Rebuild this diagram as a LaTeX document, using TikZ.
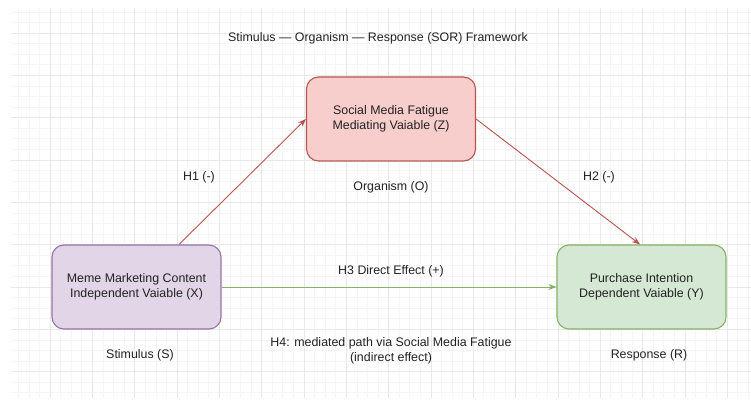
\documentclass[tikz,border=0pt]{standalone}
\usepackage{fontspec}
\setmainfont{Liberation Sans}
\usetikzlibrary{positioning,arrows.meta}

\definecolor{txtgray}{HTML}{222222}
\definecolor{purplefill}{HTML}{E1D5E7}
\definecolor{purpleline}{HTML}{9673A6}
\definecolor{redfill}{HTML}{F8CECC}
\definecolor{redline}{HTML}{B85450}
\definecolor{greenfill}{HTML}{D5E8D4}
\definecolor{greenline}{HTML}{82B366}

\begin{document}
\begin{tikzpicture}[
    x=1pt, y=-1pt,
    var/.style={rectangle, draw, line width=1.1pt, rounded corners=12pt, minimum width=169pt, minimum height=84pt, align=center, text=txtgray, font=\fontsize{12.4}{14.5}\selectfont},
    lbl/.style={align=center, text=txtgray, font=\fontsize{12.4}{14.5}\selectfont},
    path/.style={-{Stealth[length=8pt,width=6pt,inset=2.5pt]}, line width=0.9pt},
    gridminor/.style={draw=gray!8, line width=0.6pt},
    gridmajor/.style={draw=gray!18, line width=0.6pt}
  ]

    \useasboundingbox[fill=white] (0,0) rectangle (751,403);

    % background grid
    \begin{scope}
      \clip (11,8) rectangle (751,398);
      \foreach \i in {-4,...,66} \draw[gridminor] ({50+\i*10.58},8) -- ++(0,390);
      \foreach \j in {-3,...,34} \draw[gridminor] (11,{33+\j*10.58}) -- ++(740,0);
      \foreach \i in {-4,0,...,64} \draw[gridmajor] ({50+\i*10.58},8) -- ++(0,390);
      \foreach \j in {0,4,...,32} \draw[gridmajor] (11,{33+\j*10.58}) -- ++(740,0);
    \end{scope}

    \node[lbl] (title) at (378,38) {Stimulus — Organism — Response (SOR) Framework};

    \node[var, fill=redfill, draw=redline] (fatigue) at (391,119) {
      Social Media Fatigue\\
      Mediating Vaiable (Z)
    };

    \node[var, fill=purplefill, draw=purpleline] (meme) at (136.5,287) {
      Meme Marketing Content\\
      Independent Vaiable (X)
    };

    \node[var, fill=greenfill, draw=greenline] (purchase) at (641.5,287) {
      Purchase Intention\\
      Dependent Vaiable (Y)
    };

    \node[lbl] (h1) at (199,177) {H1 (-)};
    \node[lbl] (h2) at (599,177) {H2 (-)};
    \node[lbl] (organism) at (391,187) {Organism (O)};
    \node[lbl] (h3) at (391,271) {H3 Direct Effect (+)};
    \node[lbl] (h4) at (391,351) {H4: mediated path via Social Media Fatigue\\(indirect effect)};
    \node[lbl] (stimulus) at (140,355) {Stimulus (S)};
    \node[lbl] (response) at (649,355) {Response (R)};

    \draw[path, redline] ([xshift=42.5pt]meme.north) -- (fatigue.west);
    \draw[path, redline] (fatigue.east) -- ([xshift=-1.5pt]purchase.north);
    \draw[path, greenline] (meme.east) -- (purchase.west);
  \end{tikzpicture}
\end{document}
